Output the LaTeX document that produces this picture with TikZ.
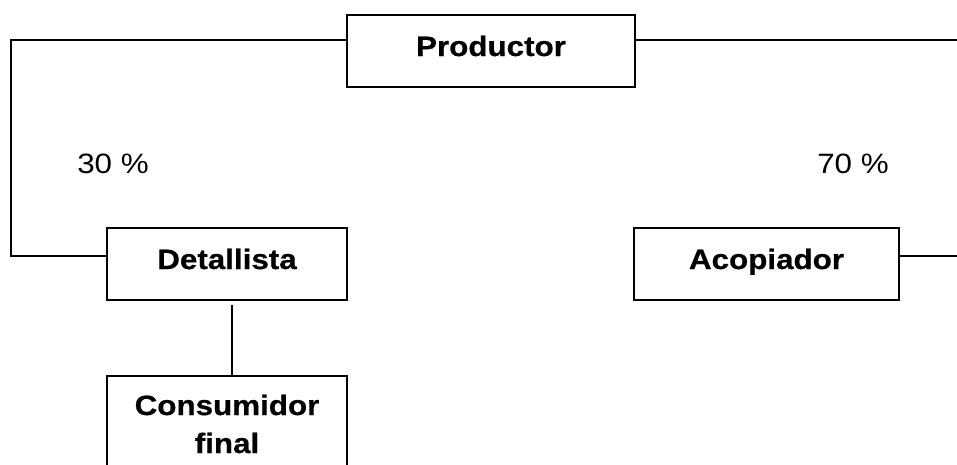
\documentclass[tikz,border=0pt]{standalone}
\usepackage{fontspec}
\setmainfont{Liberation Sans}[FakeStretch=1.12,BoldFeatures={FakeBold=0.6}]
\begin{document}
\begin{tikzpicture}[x=1pt,y=-1pt,
  box/.style={draw,line width=2pt,inner sep=0pt,font=\fontsize{28}{38}\selectfont\bfseries,align=center},
  onebox/.style={box,text height=20pt,text depth=10pt},
  conn/.style={line width=2pt},
  pct/.style={font=\fontsize{28}{36}\selectfont,inner sep=0pt}]
\useasboundingbox (0,0) rectangle (957,464);
\node[onebox,minimum width=288pt,minimum height=72pt] (P) at (491,51) {Productor};
\node[onebox,minimum width=240pt,minimum height=72pt] (D) at (227,264) {Detallista};
\node[onebox,minimum width=265pt,minimum height=72pt] (A) at (766.5,264) {Acopiador};
\node[box,minimum width=240pt,minimum height=96pt] (C) at (227,424) {Consumidor\\final};
\node[pct] (p30) at (113,164) {30 \%};
\node[pct] (p70) at (853,164) {70 \%};
\coordinate (L) at (10.5,255.7);
\coordinate (R1) at (957,39.5);
\coordinate (R2) at (957,256);
\coordinate (V) at (232,305);
\draw[conn] ([yshift=11.5pt]P.west) -| (L) -- (L -| D.west);
\draw[conn] ([yshift=11.5pt]P.east) -- (R1);
\draw[conn] (A.east |- R2) -- (R2);
\draw[conn] (V) -- (V |- C.north);
\end{tikzpicture}
\end{document}
